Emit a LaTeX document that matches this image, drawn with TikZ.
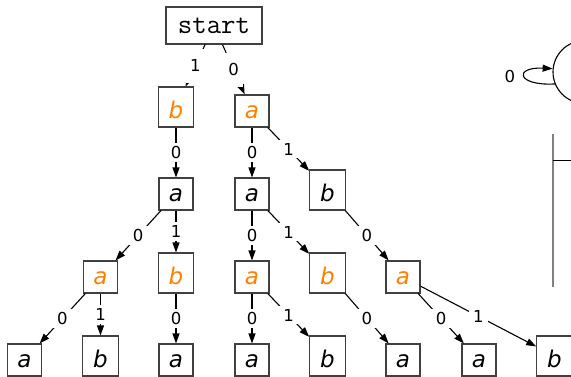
\documentclass[tikz,border=0pt]{standalone}
\usepackage{fontspec}
\setmainfont{DejaVu Sans}
\usetikzlibrary{arrows.meta}
\definecolor{orng}{RGB}{255,128,0}
\tikzset{
  st/.style={draw=black!75, line width=1.1pt, rectangle, inner sep=0pt,
    font=\itshape\fontsize{23}{27}\selectfont, anchor=base, text depth=8.5pt},
  sa/.style={st, minimum width=34pt, text height=23.5pt},
  sb/.style={st, minimum width=35.5pt, text height=31.5pt},
  og/.style={text=orng},
  edge/.style={line width=1.1pt, -{Triangle[length=10pt,width=7pt]}},
  lbl/.style={fill=white, font=\fontsize{16.5}{19}\selectfont, inner xsep=4.5pt, inner ysep=3pt},
  lbltop/.style={lbl, minimum height=34pt},
  startbox/.style={draw=black!75, line width=1.1pt, rectangle, inner sep=0pt,
    minimum width=96pt, minimum height=37pt, font=\ttfamily\fontsize{28}{30}\selectfont}
}
\begin{document}
\begin{tikzpicture}[x=1pt,y=-1pt]
\useasboundingbox (0,0) rectangle (571,376);
% start
\node[startbox] (s) at (214,25.5) {start};
% row 1
\node[sb,og] (n1) at (176,118.5) {b};
\node[sa,og] (n2) at (252,118.5) {a};
% row 2
\node[sa] (n3) at (176,201.5) {a};
\node[sa] (n4) at (252,201.5) {a};
\node[sb] (n5) at (327.5,201.5) {b};
% row 3
\node[sa,og] (n6) at (100.5,284.5) {a};
\node[sb,og] (n7) at (176,284.5) {b};
\node[sa,og] (n8) at (252,284.5) {a};
\node[sb,og] (n9) at (327.5,284.5) {b};
\node[sa,og] (n10) at (403,284.5) {a};
% row 4
\node[sa] (n11) at (24.5,367.5) {a};
\node[sb] (n12) at (100.5,367.5) {b};
\node[sa] (n13) at (176,367.5) {a};
\node[sa] (n14) at (252,367.5) {a};
\node[sb] (n15) at (327.5,367.5) {b};
\node[sa] (n16) at (403,367.5) {a};
\node[sa] (n17) at (479,367.5) {a};
\node[sb] (n18) at (554.5,367.5) {b};
% edges
\draw[edge] (s) -- node[lbltop] (e1) {1} (n1);
\draw[edge] (s) -- node[lbltop] (e2) {0} (n2);
\draw[edge] (n1) -- node[lbl] (e3) {0} (n3);
\draw[edge] (n2) -- node[lbl] (e4) {0} (n4);
\draw[edge] (n2) -- node[lbl] (e5) {1} (n5);
\draw[edge] (n3) -- node[lbl] (e6) {0} (n6);
\draw[edge] (n3) -- node[lbl] (e7) {1} (n7);
\draw[edge] (n4) -- node[lbl] (e8) {0} (n8);
\draw[edge] (n4) -- node[lbl] (e9) {1} (n9);
\draw[edge] (n5) -- node[lbl] (e10) {0} (n10);
\draw[edge] (n6) -- node[lbl] (e11) {0} (n11);
\draw[edge] (n6) -- node[lbl] (e12) {1} (n12);
\draw[edge] (n7) -- node[lbl] (e13) {0} (n13);
\draw[edge] (n8) -- node[lbl] (e14) {0} (n14);
\draw[edge] (n8) -- node[lbl] (e15) {1} (n15);
\draw[edge] (n9) -- node[lbl] (e16) {0} (n16);
\draw[edge] (n10) -- node[lbl] (e17) {0} (n17);
\draw[edge] (n10) -- node[lbl] (e18) {1} (n18);
% partial state with self loop
\node[draw=black, line width=1.1pt, circle, minimum size=62.8pt, inner sep=0pt] (q) at (584.4,72) {};
\draw[edge] (q.202.5) .. controls +(-38.7,2) and +(-38.7,-2) .. node[pos=0.5, anchor=east, inner sep=0pt, xshift=-9pt, font=\fontsize{16.5}{19}\selectfont] (ql) {0} (q.174.5);
% table fragment
\coordinate (t1) at (553,134);
\coordinate (t2) at (553,287);
\coordinate (h1) at (553,160.7);
\coordinate (h2) at (572,160.7);
\draw[black!50, line width=2pt] (t1) -- (t2);
\draw[line width=1.1pt] (h1) -- (h2);
\end{tikzpicture}
\end{document}
